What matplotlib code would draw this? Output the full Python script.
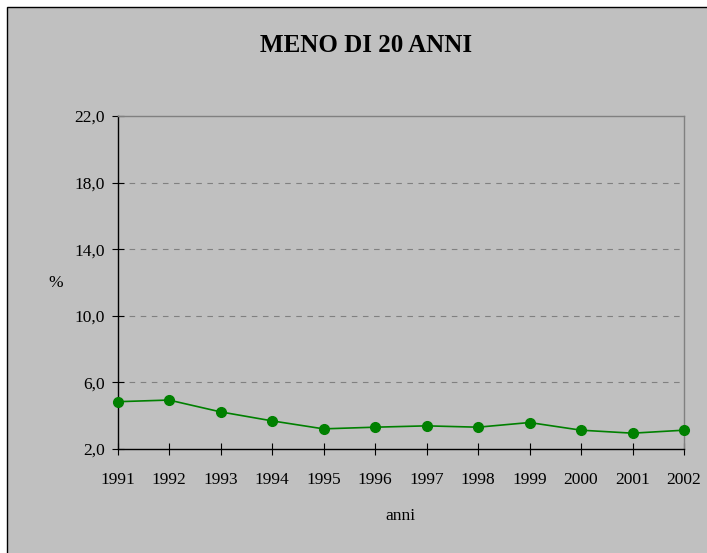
import matplotlib
matplotlib.use("Agg")
import matplotlib.pyplot as plt
from matplotlib.patches import Rectangle

years = ["1991", "1992", "1993", "1994", "1995", "1996", "1997", "1998", "1999", "2000", "2001", "2002"]
values = [4.84, 4.94, 4.23, 3.69, 3.21, 3.31, 3.39, 3.31, 3.59, 3.13, 2.95, 3.13]
yticks = [2.0, 6.0, 10.0, 14.0, 18.0, 22.0]
ytick_labels = ["2,0", "6,0", "10,0", "14,0", "18,0", "22,0"]
title = "MENO DI 20 ANNI"
xlabel = "anni"
ylabel = "%"

plt.rcParams['font.family'] = ['Liberation Serif', 'DejaVu Serif']

W, H = 707, 553
fig = plt.figure(figsize=(W / 100, H / 100), dpi=100, facecolor="white")
bg = "#c0c0c0"
frame = Rectangle((7 / W, -0.1), 1.2, (H - 7) / H + 0.1, transform=fig.transFigure,
                  facecolor=bg, edgecolor="black", linewidth=1.0, zorder=-10)
fig.add_artist(frame)

left, right, top, bottom = 117.5, 684, 116, 449
ax = fig.add_axes([left / W, 1 - bottom / H, (right - left) / W, (bottom - top) / H])
ax.set_facecolor(bg)
ax.set_zorder(1)

x = list(range(len(years)))
ax.plot(x, values, color="#008000", linewidth=1.2, marker="o", markersize=7, zorder=3, clip_on=False)

ax.set_xlim(0, len(years) - 1)
ax.set_ylim(yticks[0], yticks[-1])
ax.set_xticks(x)
ax.set_xticklabels(years, fontsize=12.5)
ax.set_yticks(yticks)
ax.set_yticklabels(ytick_labels, fontsize=12.5)
ax.tick_params(axis="both", direction="inout", length=8.6, width=0.8, colors="black", pad=5)
ax.tick_params(axis="x", pad=12)

for v in yticks[1:-1]:
    ax.axhline(v, color="#808080", linewidth=0.8, linestyle=(0, (5, 5)), zorder=1)

for s in ["left", "bottom"]:
    ax.spines[s].set_color("black")
    ax.spines[s].set_linewidth(1.0)
for s in ["right", "top"]:
    ax.spines[s].set_color("#808080")
    ax.spines[s].set_linewidth(1.0)

fig.text(366 / W, 1 - 46 / H, title, ha="center", va="center", fontsize=18, fontweight="bold")
fig.text(400 / W, 1 - 516 / H, xlabel, ha="center", va="center", fontsize=12.5)
fig.text(56 / W, 1 - 283 / H, ylabel, ha="center", va="center", fontsize=12.5)

fig.savefig("out.png", dpi=100, facecolor=fig.get_facecolor())
